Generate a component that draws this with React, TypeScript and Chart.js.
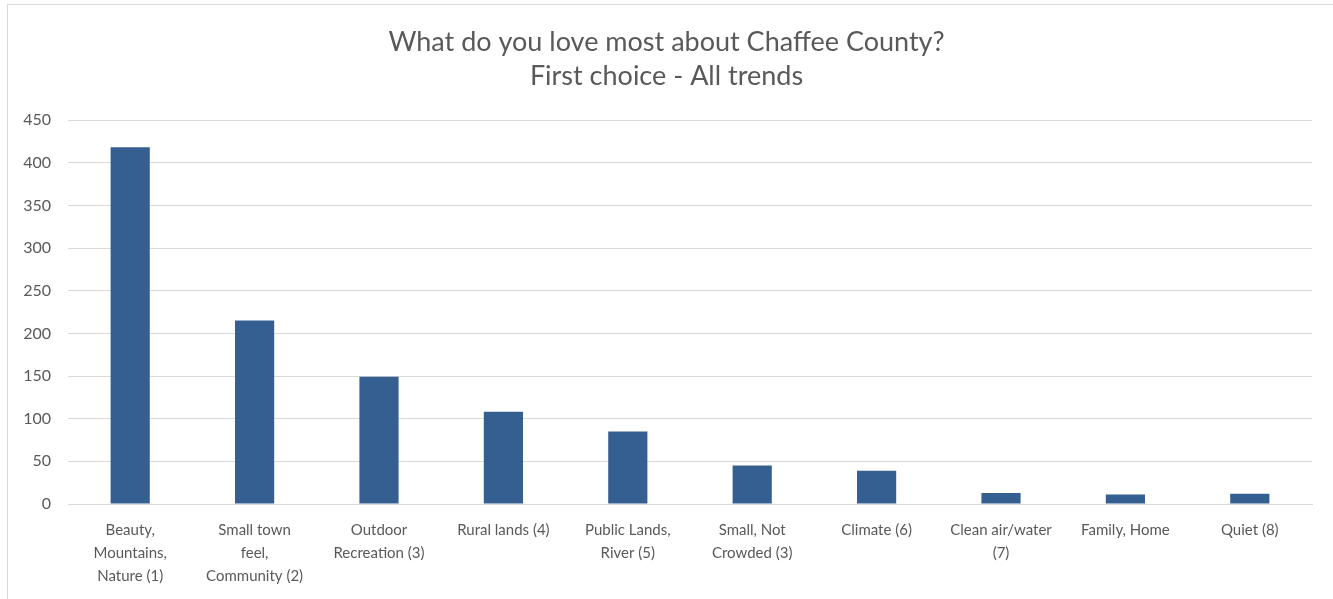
import React, { useEffect, useRef } from "react";
import { Chart, registerables } from "chart.js";

Chart.register(...registerables);

const categories: (string | string[])[] = [
  ["Beauty,", "Mountains,", "Nature (1)"],
  ["Small town", "feel,", "Community (2)"],
  ["Outdoor", "Recreation (3)"],
  "Rural lands (4)",
  ["Public Lands,", "River (5)"],
  ["Small, Not", "Crowded (3)"],
  "Climate (6)",
  ["Clean air/water", "(7)"],
  "Family, Home",
  "Quiet (8)",
];
const values: number[] = [418, 215, 149, 108, 85, 45, 39, 13, 11, 12];
const titleLines: string[] = ["What do you love most about Chaffee County?", "First choice - All trends"];

const FONT = "Lato, 'Open Sans', sans-serif";
const TITLE_FONT = "Lato, 'Open Sans', sans-serif";

export default function App() {
  const ref = useRef<HTMLCanvasElement | null>(null);
  useEffect(() => {
    if (!ref.current) return;
    const chart = new Chart(ref.current, {
      type: "bar",
      data: {
        labels: categories,
        datasets: [
          {
            data: values,
            backgroundColor: "#365f91",
            barPercentage: 0.315,
            categoryPercentage: 1,
            yAxisID: "y",
          },
        ],
      },
      options: {
        animation: false,
        responsive: false,
        maintainAspectRatio: false,
        layout: { padding: 0 },
        plugins: {
          legend: { display: false },
          tooltip: { enabled: false },
          title: {
            display: true,
            text: titleLines,
            color: "#595959",
            font: { family: TITLE_FONT, size: 27, weight: "normal", lineHeight: 1.26 },
            padding: { top: 25, bottom: 27 },
          },
        },
        scales: {
          x: {
            grid: { display: false, drawTicks: false },
            border: { display: true, color: "#d9d9d9", width: 1 },
            ticks: {
              color: "#595959",
              font: { family: FONT, size: 15, lineHeight: 1.53 },
              padding: 15,
              maxRotation: 0,
              minRotation: 0,
              autoSkip: false,
            },
            afterFit: (s: any) => {
              s.height = 95;
            },
          },
          y: {
            min: 0,
            max: 450,
            ticks: {
              stepSize: 50,
              color: "#595959",
              font: { family: FONT, size: 16 },
              padding: 17,
            },
            grid: { color: "#d9d9d9", drawTicks: false },
            border: { display: false },
            afterFit: (s: any) => {
              s.width = 68;
            },
          },
          yRight: {
            position: "right",
            min: 0,
            max: 450,
            ticks: { display: false },
            grid: { display: false, drawTicks: false },
            border: { display: false },
            afterFit: (s: any) => {
              s.width = 21;
            },
          },
        },
      },
    });
    return () => chart.destroy();
  }, []);
  return (
    <div style={{ position: "absolute", left: 0, top: 0, width: 1333, height: 599, background: "#fff", overflow: "hidden" }}>
      <div
        style={{
          position: "absolute",
          left: 7,
          top: 4,
          width: 1400,
          height: 700,
          border: "1px solid #d9d9d9",
          boxSizing: "border-box",
        }}
      />
      <canvas ref={ref} width={1333} height={599} style={{ position: "absolute", left: 0, top: 0 }} />
    </div>
  );
}
